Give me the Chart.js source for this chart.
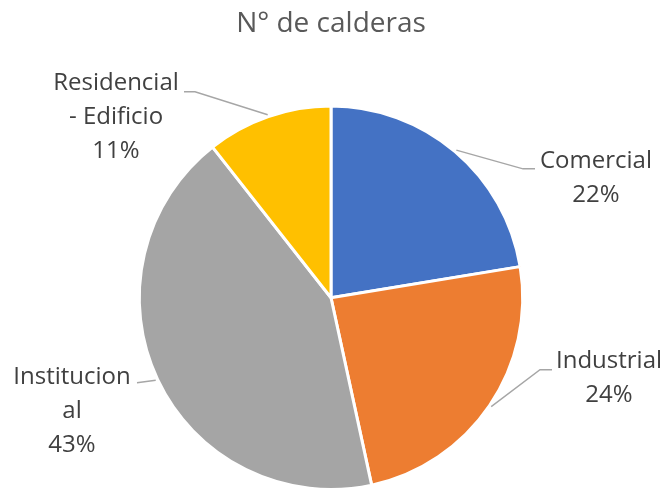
<!DOCTYPE html>
<html>
<head>
<meta charset="utf-8">
<script src="https://cdn.jsdelivr.net/npm/chart.js@4/dist/chart.umd.min.js"></script>
<style>
  html, body { margin: 0; padding: 0; background: #ffffff; }
  #wrap { width: 667px; height: 495px; }
</style>
</head>
<body>
<div id="wrap"><canvas id="c" width="667" height="495"></canvas></div>
<script>
// ---- data ----
const chartTitle = 'N° de calderas';
const categories = ['Comercial', 'Industrial', 'Institucional', 'Residencial - Edificio'];
const boilerShare = [22.4, 24.2, 42.8, 10.6];
const sliceColors = ['#4472C4', '#ED7D31', '#A5A5A5', '#FFC000'];

// ---- label layout (relative to pie centre) ----
const labelLayout = [
  { breaks: [],   elbow: [192, -129], end: [204, -129], cx: 265,  y0: -137 },
  { breaks: [],   elbow: [209, 72],   end: [221, 72],   cx: 278,  y0: 63 },
  { breaks: [11], elbow: null,        end: [-194, 85],  cx: -259, y0: 79 },
  { breaks: [11], elbow: [-136, -206],end: [-147, -206],cx: -215, y0: -215 }
];

function splitAt(text, breaks) {
  const out = [];
  let s = 0;
  breaks.forEach(b => { out.push(text.slice(s, b).trim()); s = b; });
  out.push(text.slice(s).trim());
  return out;
}

const pieLabels = {
  id: 'pieLabels',
  afterDraw(chart) {
    const ctx = chart.ctx;
    const meta = chart.getDatasetMeta(0);
    const values = chart.data.datasets[0].data;
    const total = values.reduce((a, b) => a + b, 0);
    ctx.save();
    meta.data.forEach((arc, i) => {
      const p = arc.getProps(['x', 'y', 'startAngle', 'endAngle', 'outerRadius'], true);
      const mid = (p.startAngle + p.endAngle) / 2;
      const r = p.outerRadius + 2;
      const sx = p.x + Math.cos(mid) * r;
      const sy = p.y + Math.sin(mid) * r;
      const L = labelLayout[i];
      ctx.strokeStyle = '#A6A6A6';
      ctx.lineWidth = 1.4;
      ctx.beginPath();
      ctx.moveTo(sx, sy);
      if (L.elbow) ctx.lineTo(p.x + L.elbow[0], p.y + L.elbow[1]);
      ctx.lineTo(p.x + L.end[0], p.y + L.end[1]);
      ctx.stroke();

      const pct = Math.round(values[i] / total * 100) + '%';
      const lines = splitAt(chart.data.labels[i], L.breaks).concat([pct]);
      ctx.fillStyle = '#404040';
      ctx.font = '24px "Open Sans"';
      ctx.textAlign = 'center';
      ctx.textBaseline = 'middle';
      lines.forEach((t, k) => {
        ctx.fillText(t, p.x + L.cx, p.y + L.y0 + k * 34);
      });
    });
    ctx.restore();
  }
};

new Chart(document.getElementById('c'), {
  type: 'pie',
  data: {
    labels: categories,
    datasets: [{
      data: boilerShare,
      backgroundColor: sliceColors,
      borderColor: '#ffffff',
      borderWidth: 3
    }]
  },
  options: {
    responsive: false,
    animation: false,
    layout: { padding: { left: 0, right: 5, top: 0, bottom: 4 } },
    plugins: {
      legend: { display: false },
      tooltip: { enabled: false },
      title: {
        display: true,
        text: chartTitle,
        color: '#595959',
        font: { family: '"Open Sans"', size: 28, weight: 'normal' },
        padding: { top: 7, bottom: 64 }
      }
    }
  },
  plugins: [pieLabels]
});
</script>
</body>
</html>
